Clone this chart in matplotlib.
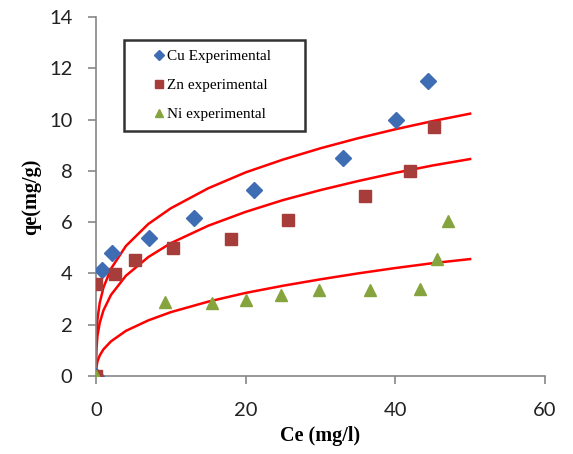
import matplotlib.pyplot as plt

# experimental points
cu_ce = [0, 0.8, 2.1, 7.1, 13.1, 21.1, 33.0, 40.1, 44.4]
cu_qe = [0, 4.14, 4.8, 5.4, 6.18, 7.27, 8.5, 10.0, 11.5]

zn_ce = [0, 0, 2.6, 5.2, 10.3, 18.0, 25.7, 36.0, 42.0, 45.2]
zn_qe = [0, 3.58, 3.98, 4.53, 4.99, 5.35, 6.09, 7.03, 8.0, 9.7]

ni_ce = [0, 9.2, 15.5, 20.0, 24.7, 29.8, 36.6, 43.3, 45.6, 47.0]
ni_qe = [0, 2.9, 2.86, 2.97, 3.16, 3.36, 3.36, 3.4, 4.57, 6.05]

# fitted (red) curves
fit_ce = [0, 0.01, 0.05, 0.2, 0.5, 1, 2, 4, 7, 10, 15, 20, 25, 30, 35, 40, 45, 50]
fit_cu = [0, 0.96, 1.50, 2.21, 2.85, 3.45, 4.18, 5.07, 5.93, 6.54, 7.32, 7.94,
          8.44, 8.88, 9.27, 9.62, 9.94, 10.23]
fit_zn = [0, 0.63, 1.02, 1.57, 2.07, 2.56, 3.16, 3.91, 4.64, 5.18, 5.86, 6.40,
          6.86, 7.25, 7.60, 7.92, 8.21, 8.46]
fit_ni = [0, 0.18, 0.33, 0.57, 0.80, 1.04, 1.35, 1.76, 2.17, 2.49, 2.90, 3.24,
          3.52, 3.77, 4.00, 4.21, 4.40, 4.56]

x_ticks = [0, 20, 40, 60]
y_ticks = [0, 2, 4, 6, 8, 10, 12, 14]

fig = plt.figure(figsize=(5.73, 4.54), dpi=100)
ax = fig.add_axes([0.1675, 0.1718, 0.7835, 0.7908])

for fit in (fit_cu, fit_zn, fit_ni):
    ax.plot(fit_ce, fit, color='#FF0000', lw=1.8, zorder=2)

ax.plot(cu_ce, cu_qe, 'D', color='#3F6DB3', ms=8, ls='none', label='Cu Experimental', zorder=3)
ax.plot(zn_ce, zn_qe, 's', color='#A73D3A', ms=8, ls='none', label='Zn experimental', zorder=3)
ax.plot(ni_ce, ni_qe, '^', color='#86A43E', ms=9, ls='none', label='Ni experimental', zorder=4)

ax.set_xlim(0, 60)
ax.set_ylim(0, 14)
ax.set_xticks(x_ticks)
ax.set_yticks(y_ticks)

for s in ('top', 'right'):
    ax.spines[s].set_visible(False)
for s in ('left', 'bottom'):
    ax.spines[s].set_color('#868686')
    ax.spines[s].set_linewidth(1.2)
ax.tick_params(colors='#868686', length=6, width=1.2, labelcolor='#222222',
               labelsize=14.5)
for lab in ax.get_xticklabels() + ax.get_yticklabels():
    lab.set_family('Lato')
ax.tick_params(axis='x', pad=13)
ax.tick_params(axis='y', pad=11)

ax.set_xlabel('Ce (mg/l)', family='Liberation Serif', fontweight='bold',
              fontsize=14.5, labelpad=5)
ax.set_ylabel('qe(mg/g)', family='Liberation Serif', fontweight='bold',
              fontsize=14.5, labelpad=6)

leg = ax.legend(loc='upper left', bbox_to_anchor=(0.0624, 0.685, 0.403, 0.251),
                mode='expand', borderaxespad=0,
                prop={'family': 'Liberation Serif', 'size': 11},
                frameon=True, fancybox=False, edgecolor='black',
                handlelength=3.4, handletextpad=-1.2, labelspacing=1.0,
                borderpad=0.62, markerscale=0.7)
leg.get_frame().set_linewidth(1.8)

fig.savefig('out.png', dpi=100)
